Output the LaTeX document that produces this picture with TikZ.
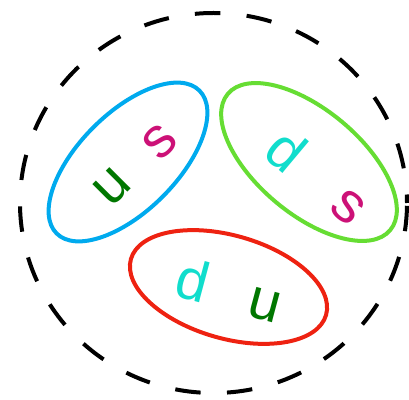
\documentclass[tikz,border=0pt]{standalone}
\usepackage{fontspec}
\setmainfont{Liberation Sans}
\definecolor{cblue}{HTML}{00AAEE}
\definecolor{cgreen}{HTML}{66DD33}
\definecolor{cred}{HTML}{EE2211}
\definecolor{qgreen}{HTML}{007700}
\definecolor{qcyan}{HTML}{11DDCC}
\definecolor{qmag}{HTML}{CC1177}
\tikzset{
  ring/.style={line width=4pt},
  outer/.style={line width=4pt, dash pattern=on 25.5pt off 26.4pt, dash phase=17pt},
  quark/.style={font=\fontsize{57}{57}\selectfont, inner sep=0pt}
}
\begin{document}
\begin{tikzpicture}[x=1pt,y=1pt]
\useasboundingbox (0,0) rectangle (409,399);
% outer dashed circle
\draw[outer] (213.5,196) ellipse [x radius=193.5, y radius=190];
% blue pair
\draw[ring, cblue, rotate around={45:(128,237)}] (128,237) ellipse [x radius=101, y radius=49];
\node[quark, qgreen, rotate=45] (bu) at (112,212) {u};
\node[quark, qmag, rotate=45] (bs) at (160,257) {s};
% green pair
\draw[ring, cgreen, rotate around={-40:(309,237)}] (309,237) ellipse [x radius=106, y radius=52];
\node[quark, qcyan, rotate=-40] (gd) at (287,249) {d};
\node[quark, qmag, rotate=-40] (gs) at (348,192) {s};
% red pair
\draw[ring, cred, rotate around={-16:(228.5,112)}] (228.5,112) ellipse [x radius=101.5, y radius=51.5];
\node[quark, qcyan, rotate=-15] (rd) at (193,119) {d};
\node[quark, qgreen, rotate=-15] (ru) at (265,94) {u};
\end{tikzpicture}
\end{document}
